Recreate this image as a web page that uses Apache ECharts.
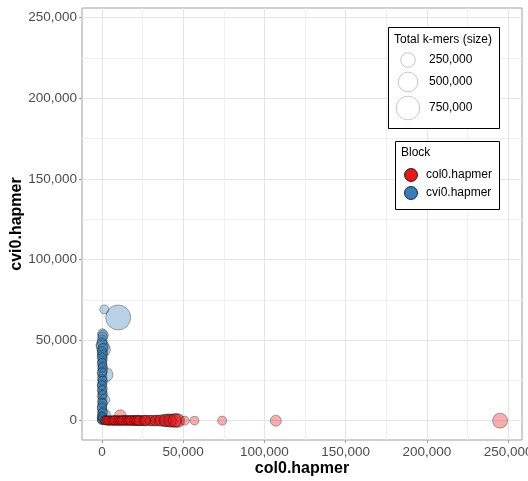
<!DOCTYPE html>
<html>
<head>
    <meta charset="utf-8">
    <script src="https://cdn.jsdelivr.net/npm/echarts@6/dist/echarts.min.js"></script>
    <style>
        body { margin: 0; background: #fff; }
        #main { width: 528px; height: 481px; }
    </style>
</head>
<body>
    <div id="main"></div>

    <script type="text/javascript">
        // cvi0.hapmer block points: [col0, cvi0, total k-mers]
        var blueX = [1500, 10000, 300, 800, 200, 0, 500, 1200, 300, 0, 600, 200, 0, 400, 100, 700, 0, 2500, 300, 0,
                     500, 200, 0, 400, 100, 600, 0, 300, 1500, 0, 500, 200, 0, 400, 100, 1800, 0, 300, 0, 200, 0, 600, 100,
                     400, 0, 700, 200, 500, 0, 300, 600, 100, 400, 0, 200, 500, 300, 0, 700, 100];
        var blueY = [69000, 64000, 54000, 53000, 50000, 47000, 46000, 44000, 42000, 40000, 38500, 37000, 35500, 34000, 32500, 31000, 29500, 28500, 27500, 26000,
                     24500, 23000, 21500, 20000, 18500, 17000, 15500, 14000, 13000, 12000, 10500, 9000, 7500, 6000, 4500, 3500, 3000, 2000, 1000, 500, 200, 1500, 800,
                     52000, 48500, 45000, 43000, 41000, 39000, 36000, 33000, 30000, 25000, 22000, 19000, 16000, 11000, 8000, 5000, 2500];
        var blueTotal = [80000, 850000, 90000, 110000, 100000, 150000, 190000, 200000, 110000, 90000, 80000, 80000, 90000, 75000, 80000, 85000, 90000, 230000, 80000, 75000,
                         85000, 80000, 75000, 85000, 80000, 75000, 85000, 80000, 120000, 75000, 80000, 85000, 75000, 80000, 90000, 140000, 75000, 80000, 85000, 75000, 70000, 80000, 75000,
                         90000, 85000, 80000, 90000, 85000, 80000, 75000, 85000, 80000, 75000, 80000, 85000, 75000, 80000, 85000, 80000, 75000];

        // col0.hapmer block points
        var redX = [1500, 2500, 3500, 4500, 5500, 6500, 7500, 8500, 9500, 10500, 11300, 11500, 12500, 13500, 14500, 15500, 16500, 17500, 18500, 19500,
                    20500, 21500, 22500, 23500, 25000, 26500, 28000, 29500, 31000, 32500, 34000, 35000, 37000, 38500, 40000, 41500, 43000, 44500, 46000, 47000,
                    51000, 57000, 74000, 107000, 245000, 5000, 9000, 14000, 19000, 24000, 30000,
                    2000, 3000, 4000, 6000, 7000, 8000, 10000, 11000, 12000, 13000, 15000, 16000, 17000, 18000, 20000, 21000, 22000, 23000, 26000, 27000,
                    33000, 36000, 39000, 42000, 45000];
        var redY = [300, 200, 100, 0, 200, 100, 0, 300, 100, 200, 3100, 0, 100, 200, 0, 100, 300, 0, 100, 200,
                    0, 100, 200, 0, 100, 0, 200, 100, 0, 100, 200, 0, 100, 0, 200, 100, 0, 100, 200, 0,
                    0, 0, 0, 0, 0, 100, 0, 200, 100, 0, 100,
                    100, 0, 200, 0, 100, 200, 0, 100, 0, 200, 100, 0, 200, 100, 0, 200, 100, 0, 100, 200,
                    0, 100, 200, 0, 100];
        var redTotal = [75000, 70000, 85000, 80000, 75000, 85000, 90000, 80000, 85000, 95000, 150000, 80000, 85000, 90000, 80000, 95000, 85000, 80000, 90000, 100000,
                        85000, 95000, 110000, 90000, 100000, 115000, 95000, 110000, 120000, 100000, 115000, 110000, 140000, 150000, 180000, 200000, 190000, 210000, 220000, 200000,
                        80000, 75000, 80000, 130000, 270000, 80000, 85000, 90000, 95000, 100000, 105000,
                        75000, 80000, 75000, 85000, 80000, 90000, 85000, 80000, 90000, 85000, 95000, 85000, 90000, 95000, 90000, 100000, 95000, 100000, 105000, 110000,
                        120000, 130000, 160000, 170000, 200000];

        var sizeBreaks = [250000, 500000, 750000];
        var majorTicks = [0, 50000, 100000, 150000, 200000, 250000];
        var minorTicks = [25000, 75000, 125000, 175000, 225000];

        function sizeFor(v) {
            return 2 + 0.025 * Math.sqrt(v);
        }

        function zip(xs, ys, ts) {
            return xs.map(function (x, i) { return [x, ys[i], ts[i]]; });
        }

        var fmt = function (v) {
            return Number(v).toLocaleString('en-US');
        };

        var myChart = echarts.init(document.getElementById('main'));

        var font = 'Liberation Sans';

        // main axis: labels, ticks and major grid lines
        function mainAxis(min, max, name, gap) {
            return {
                type: 'value', min: min, max: max,
                name: name, nameLocation: 'middle', nameGap: gap, nameMoveOverlap: false,
                nameTextStyle: { fontFamily: font, fontWeight: 'bold', fontSize: 16, color: '#000' },
                axisLine: { show: false, onZero: false },
                axisTick: { show: true, length: 3, customValues: majorTicks, lineStyle: { color: '#a0a0a0' } },
                axisLabel: { fontFamily: font, fontSize: 13.5, color: '#4d4d4d', margin: 5, customValues: majorTicks, formatter: fmt },
                splitLine: { show: true, lineStyle: { color: '#e4e4e4', width: 1 } }
            };
        }
        // helper axis only for the minor grid lines
        function minorAxis(min, max, pos) {
            return {
                type: 'value', min: min, max: max, position: pos,
                axisLine: { show: false, onZero: false },
                axisTick: { show: false, customValues: minorTicks },
                axisLabel: { show: false, customValues: minorTicks },
                splitLine: { show: true, lineStyle: { color: '#efefef', width: 1 } }
            };
        }

        // legends
        var legendEls = [];
        var txt = function (x, y, s) {
            return { type: 'text', x: x, y: y, z: 100, style: { text: s, font: '12px "' + font + '"', fill: '#000', verticalAlign: 'middle' } };
        };
        legendEls.push({ type: 'rect', z: 99, shape: { x: 388.5, y: 27.5, width: 111, height: 101 }, style: { fill: '#fff', stroke: '#000', lineWidth: 1 } });
        legendEls.push(txt(394, 40, 'Total k-mers (size)'));
        var sizeRows = [60, 82, 108];
        sizeBreaks.forEach(function (b, i) {
            legendEls.push({ type: 'circle', z: 100, shape: { cx: 408, cy: sizeRows[i], r: sizeFor(b) / 2 }, style: { fill: '#fff', stroke: '#c8c8c8', lineWidth: 1 } });
            legendEls.push(txt(429, sizeRows[i], fmt(b)));
        });
        legendEls.push({ type: 'rect', z: 99, shape: { x: 395.5, y: 141.5, width: 104, height: 68 }, style: { fill: '#fff', stroke: '#000', lineWidth: 1 } });
        legendEls.push(txt(401, 153, 'Block'));
        var blocks = [['col0.hapmer', '#e41a1c', 175], ['cvi0.hapmer', '#377eb8', 193]];
        blocks.forEach(function (b) {
            legendEls.push({ type: 'circle', z: 100, shape: { cx: 411, cy: b[2], r: 6.5 }, style: { fill: b[1], stroke: '#000', lineWidth: 0.8 } });
            legendEls.push(txt(426, b[2], b[0]));
        });

        myChart.setOption({
            animation: false,
            backgroundColor: '#fff',
            grid: {
                left: 82, right: 6, top: 8, bottom: 41,
                outerBoundsMode: 'none',
                show: true, borderColor: '#a0a0a0', borderWidth: 1
            },
            xAxis: [mainAxis(-12250, 258500, 'col0.hapmer', 21), minorAxis(-12250, 258500, 'bottom')],
            yAxis: [mainAxis(-12000, 256000, 'cvi0.hapmer', 57), minorAxis(-12000, 256000, 'left')],
            graphic: legendEls,
            series: [{
                name: 'cvi0.hapmer',
                type: 'scatter',
                symbolSize: function (val) { return sizeFor(val[2]); },
                itemStyle: { color: 'rgba(55,126,184,0.35)', borderColor: 'rgba(0,0,0,0.4)', borderWidth: 0.8, opacity: 1 },
                data: zip(blueX, blueY, blueTotal)
            }, {
                name: 'col0.hapmer',
                type: 'scatter',
                symbolSize: function (val) { return sizeFor(val[2]); },
                itemStyle: { color: 'rgba(228,26,28,0.35)', borderColor: 'rgba(0,0,0,0.4)', borderWidth: 0.8, opacity: 1 },
                data: zip(redX, redY, redTotal)
            }]
        });
    </script>
</body>
</html>
